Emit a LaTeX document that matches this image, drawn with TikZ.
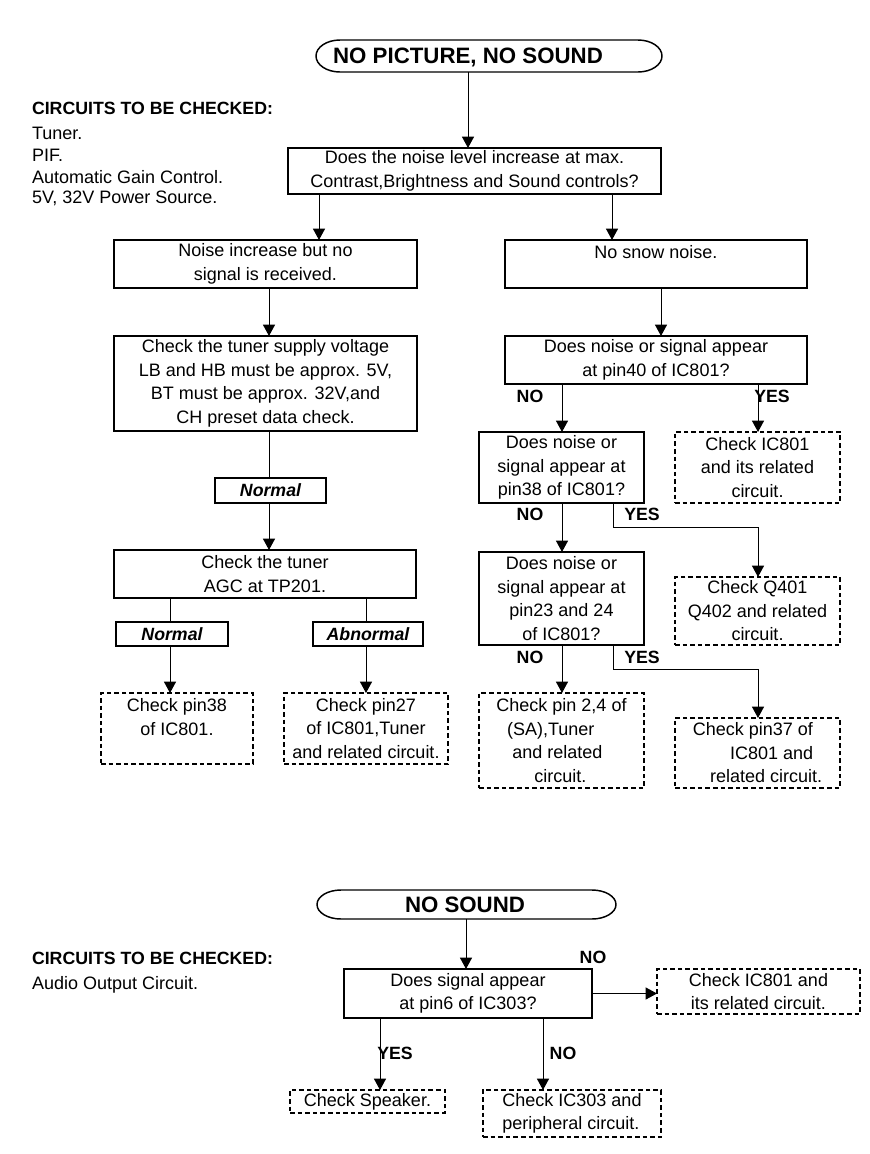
\documentclass[tikz,border=0pt]{standalone}
\usepackage{fontspec}
\setmainfont{Liberation Sans}
\usetikzlibrary{arrows.meta,calc}
\newlength\pxu \setlength\pxu{0.75pt}
\begin{document}
\begin{tikzpicture}[x=0.75pt,y=-0.75pt,
 every node/.style={font=\fontsize{13.5}{17.6}\selectfont, inner sep=0pt, outer sep=0pt},
 sz/.style 2 args={minimum width=#1\pxu, minimum height=#2\pxu},
 box/.style={draw, line width=0.9pt, align=center},
 dbox/.style={draw, line width=1.1pt, dash pattern=on 3.5pt off 2.2pt, align=center},
 termline/.style={draw, line width=1.1pt},
 ttl/.style={font=\fontsize{16.7}{20}\selectfont\bfseries},
 lab/.style={font=\fontsize{13.3}{16}\selectfont\bfseries},
 cond/.style={box, font=\fontsize{13.3}{16}\selectfont\bfseries\itshape},
 plain/.style={anchor=west},
 arr/.style={line width=0.75pt, -{Triangle[length=8.5pt,width=9pt]}},
 ln/.style={line width=0.75pt},
]
\useasboundingbox (0,0) rectangle (869,1154);

% ---------- first chart ----------
\node[sz={346}{32}] (t1) at (489,56) {};
\draw[termline] ([xshift=-18pt]t1.north east) arc[start angle=90, end angle=-90, x radius=18pt, y radius=12pt]
  -- ([xshift=18pt]t1.south west) arc[start angle=-90, end angle=-270, x radius=18pt, y radius=12pt] -- cycle;
\node[ttl] (t1t) at (468,57) {NO PICTURE, NO SOUND};

\node[lab, plain] (h1) at (32,108) {CIRCUITS TO BE CHECKED:};
\node[plain] (i1) at (32,133) {Tuner.};
\node[plain] (i2) at (32,155) {PIF.};
\node[plain] (i3) at (32,177) {Automatic Gain Control.};
\node[plain] (i4) at (32,198) {5V, 32V Power Source.};

\node[box, sz={373}{46}] (q1) at (474.5,171) {Does the noise level increase at max.\\Contrast,Brightness and Sound controls?};

\node[box, sz={303}{48}] (n1) at (265.5,264) {Noise increase but no\\signal is received.};
\node[box, sz={302}{48}] (n2) at (656,264) {No snow noise.\\\mbox{}};

\node[box, sz={303}{95}] (c1) at (265.5,383.5) {Check the tuner supply voltage\\LB and HB must be approx. 5V,\\BT must be approx. 32V,and\\CH preset data check.};
\node[cond, sz={111}{25}] (nm1) at (270.5,490.5) {Normal};
\node[box, sz={302}{48}] (agc) at (265,574) {Check the tuner\\AGC at TP201.};
\node[cond, sz={112}{24}] (nm2) at (172,634) {Normal};
\node[cond, sz={110}{24}] (ab) at (368,634) {Abnormal};
\node[dbox, sz={152}{71}] (d1) at (177,728.5) {Check pin38\\of IC801.\\\mbox{}};
\node[dbox, sz={164}{71}] (d2) at (366,728.5) {Check pin27\\of IC801,Tuner\\and related circuit.};

\node[box, sz={302}{48}] (p40) at (656,360) {Does noise or signal appear\\at pin40 of IC801?};
\node[box, sz={165}{71}] (p38) at (561.5,467.5) {Does noise or\\signal appear at\\pin38 of IC801?};
\node[dbox, sz={165}{71}] (dic) at (757.5,467.5) {Check IC801\\and its related\\circuit.};
\node[box, sz={165}{93}] (p23) at (561.5,598.5) {Does noise or\\signal appear at\\pin23 and 24\\of IC801?};
\node[dbox, sz={165}{68}] (dq) at (757.5,611) {Check Q401\\Q402 and related\\circuit.};
\node[dbox, sz={165}{95}, align=left] (dsa) at (561.5,740.5) {Check pin 2,4 of\\\hspace*{8pt}(SA),Tuner\\\hspace*{12pt}and related\\\hspace*{28.5pt}circuit.};
\node[dbox, sz={165}{70}, align=left] (d37) at (757.5,753) {Check pin37 of\\\hspace*{28pt}IC801 and\\\hspace*{13pt}related circuit.};

\node[lab] (no1) at (530,396) {NO};
\node[lab] (yes1) at (772,396) {YES};
\node[lab] (no2) at (530,514) {NO};
\node[lab] (yes2) at (642,514) {YES};
\node[lab] (no3) at (530,657) {NO};
\node[lab] (yes3) at (642,657) {YES};

% column coordinates
\coordinate (xa) at (319,0);
\coordinate (xb) at (612,0);
\coordinate (xc) at (269,0);
\coordinate (xd) at (170,0);
\coordinate (xe) at (366,0);
\coordinate (xf) at (661,0);
\coordinate (xg) at (562,0);
\coordinate (xh) at (758,0);
\coordinate (xi) at (613,0);
\coordinate (ya) at (0,527);
\coordinate (yb) at (0,669);

\draw[arr] (t1t |- t1.south) -- (t1t |- q1.north);
\draw[arr] (q1.south -| xa) -- (n1.north -| xa);
\draw[arr] (q1.south -| xb) -- (n2.north -| xb);
\draw[arr] (n1.south -| xc) -- (c1.north -| xc);
\draw[ln] (c1.south -| xc) -- (nm1.north -| xc);
\draw[arr] (nm1.south -| xc) -- (agc.north -| xc);
\draw[ln] (agc.south -| xd) -- (nm2.north -| xd);
\draw[ln] (agc.south -| xe) -- (ab.north -| xe);
\draw[arr] (nm2.south -| xd) -- (d1.north -| xd);
\draw[arr] (ab.south -| xe) -- (d2.north -| xe);

\draw[arr] (n2.south -| xf) -- (p40.north -| xf);
\draw[arr] (p40.south -| xg) -- (p38.north -| xg);
\draw[arr] (p40.south -| xh) -- (dic.north -| xh);
\draw[arr] (p38.south -| xg) -- (p23.north -| xg);
\draw[arr] (p38.south -| xi) -- (xi |- ya) -- (xh |- ya) -- (dq.north -| xh);
\draw[arr] (p23.south -| xg) -- (dsa.north -| xg);
\draw[arr] (p23.south -| xi) -- (xi |- yb) -- (xh |- yb) -- (d37.north -| xh);

% ---------- second chart ----------
\node[sz={299}{29}] (t2) at (466.5,904.5) {};
\draw[termline] ([xshift=-18pt]t2.north east) arc[start angle=90, end angle=-90, x radius=18pt, y radius=10.875pt]
  -- ([xshift=18pt]t2.south west) arc[start angle=-90, end angle=-270, x radius=18pt, y radius=10.875pt] -- cycle;
\node[ttl] (t2t) at (465,905) {NO SOUND};

\node[lab, plain] (h2) at (32,958) {CIRCUITS TO BE CHECKED:};
\node[plain] (j1) at (32,985) {Audio Output Circuit.};

\node[box, sz={248}{49}] (q2) at (468,993.5) {Does signal appear\\at pin6 of IC303?};
\node[dbox, sz={203}{45}] (dic2) at (758.5,991.5) {Check IC801 and\\its related circuit.};
\node[dbox, sz={155}{23}] (dsp) at (367.5,1101.5) {Check Speaker.};
\node[dbox, sz={178}{47}, align=left] (dic3) at (572,1113.5) {Check IC303 and\\peripheral circuit.};

\node[lab] (no4) at (593,957) {NO};
\node[lab] (yes5) at (395,1053) {YES};
\node[lab] (no5) at (563,1053) {NO};

\coordinate (xj) at (466,0);
\coordinate (xk) at (380,0);
\coordinate (xl) at (543,0);

\draw[arr] (t2.south -| xj) -- (q2.north -| xj);
\draw[arr] (q2.east) -- (q2.east -| dic2.west);
\draw[arr] (q2.south -| xk) -- (dsp.north -| xk);
\draw[arr] (q2.south -| xl) -- (dic3.north -| xl);
\end{tikzpicture}
\end{document}
